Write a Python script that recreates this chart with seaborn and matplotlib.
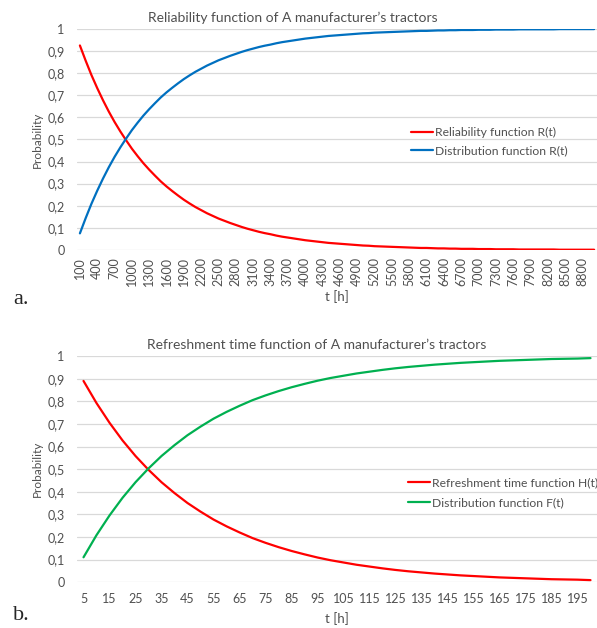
import numpy as np
import pandas as pd
import matplotlib
matplotlib.use('Agg')
import matplotlib.pyplot as plt
import seaborn as sns

sns.set_style('white')
plt.rcParams['font.family'] = ['Lato', 'DejaVu Sans']

# --- data ---
t_rel = np.arange(100, 9100, 100)  # operating time [h], categories
rel_R = [0.925, 0.856, 0.791, 0.732, 0.677, 0.626, 0.579, 0.536, 0.496, 0.458,
         0.424, 0.392, 0.363, 0.336, 0.310, 0.287, 0.266, 0.246, 0.227, 0.210,
         0.194, 0.180, 0.166, 0.154, 0.142, 0.132, 0.122, 0.113, 0.104, 0.096,
         0.089, 0.082, 0.076, 0.071, 0.065, 0.060, 0.056, 0.052, 0.048, 0.044,
         0.041, 0.038, 0.035, 0.032, 0.030, 0.028, 0.026, 0.024, 0.022, 0.020,
         0.019, 0.017, 0.016, 0.015, 0.014, 0.013, 0.012, 0.011, 0.010, 0.009,
         0.009, 0.008, 0.007, 0.007, 0.006, 0.006, 0.005, 0.005, 0.005, 0.004,
         0.004, 0.004, 0.003, 0.003, 0.003, 0.003, 0.002, 0.002, 0.002, 0.002,
         0.002, 0.002, 0.002, 0.001, 0.001, 0.001, 0.001, 0.001, 0.001, 0.001]
rel_F = [0.075, 0.144, 0.209, 0.268, 0.323, 0.374, 0.421, 0.464, 0.504, 0.542,
         0.576, 0.608, 0.637, 0.664, 0.690, 0.713, 0.734, 0.754, 0.773, 0.790,
         0.806, 0.820, 0.834, 0.846, 0.858, 0.868, 0.878, 0.887, 0.896, 0.904,
         0.911, 0.918, 0.924, 0.929, 0.935, 0.940, 0.944, 0.948, 0.952, 0.956,
         0.959, 0.962, 0.965, 0.968, 0.970, 0.972, 0.974, 0.976, 0.978, 0.980,
         0.981, 0.983, 0.984, 0.985, 0.986, 0.987, 0.988, 0.989, 0.990, 0.991,
         0.991, 0.992, 0.993, 0.993, 0.994, 0.994, 0.995, 0.995, 0.995, 0.996,
         0.996, 0.996, 0.997, 0.997, 0.997, 0.997, 0.998, 0.998, 0.998, 0.998,
         0.998, 0.998, 0.998, 0.999, 0.999, 0.999, 0.999, 0.999, 0.999, 0.999]

t_ref = np.arange(5, 205, 5)  # refreshment time [h], categories
ref_H = [0.890, 0.792, 0.705, 0.627, 0.558, 0.497, 0.442, 0.394, 0.350, 0.312,
         0.277, 0.247, 0.220, 0.195, 0.174, 0.155, 0.138, 0.123, 0.109, 0.097,
         0.087, 0.077, 0.069, 0.061, 0.054, 0.048, 0.043, 0.038, 0.034, 0.030,
         0.027, 0.024, 0.021, 0.019, 0.017, 0.015, 0.013, 0.012, 0.011, 0.009]
ref_F = [0.110, 0.208, 0.295, 0.373, 0.442, 0.503, 0.558, 0.606, 0.650, 0.688,
         0.723, 0.753, 0.780, 0.805, 0.826, 0.845, 0.862, 0.877, 0.891, 0.903,
         0.913, 0.923, 0.931, 0.939, 0.946, 0.952, 0.957, 0.962, 0.966, 0.970,
         0.973, 0.976, 0.979, 0.981, 0.983, 0.985, 0.987, 0.988, 0.989, 0.991]

y_ticks = [0, 0.1, 0.2, 0.3, 0.4, 0.5, 0.6, 0.7, 0.8, 0.9, 1]
y_labels = ['0', '0,1', '0,2', '0,3', '0,4', '0,5', '0,6', '0,7', '0,8', '0,9', '1']

df_a = pd.DataFrame({
    't': np.concatenate([t_rel, t_rel]),
    'p': rel_R + rel_F,
    'series': ['Reliability function R(t)'] * len(t_rel)
              + ['Distribution function R(t)'] * len(t_rel)})
df_b = pd.DataFrame({
    't': np.concatenate([t_ref, t_ref]),
    'p': ref_H + ref_F,
    'series': ['Refreshment time function H(t)'] * len(t_ref)
              + ['Distribution function F(t)'] * len(t_ref)})

pal_a = {'Reliability function R(t)': '#FF0000', 'Distribution function R(t)': '#0070C0'}
pal_b = {'Refreshment time function H(t)': '#FF0000', 'Distribution function F(t)': '#00B050'}

fig = plt.figure(figsize=(5.97, 6.28), dpi=100)
ax1 = fig.add_axes([0.129, 0.602, 0.871, 0.352])
ax2 = fig.add_axes([0.129, 0.073, 0.871, 0.360])

grid = '#D9D9D9'
txt = '#505050'

def style(ax, title, title_x):
    for s in ax.spines.values():
        s.set_visible(False)
    ax.set_ylim(0, 1)
    ax.set_yticks(y_ticks)
    ax.set_yticklabels(y_labels)
    ax.yaxis.grid(True, color=grid, lw=0.9)
    ax.xaxis.grid(False)
    ax.tick_params(length=0, labelsize=9, colors=txt)
    ax.tick_params(axis='y', pad=9)
    ax.set_ylabel('Probability', fontsize=8.5, color=txt, labelpad=3)
    ax.set_title(title, fontsize=10, color=txt, pad=5, x=title_x)
    ax.set_axisbelow(True)

# a. reliability
sns.lineplot(data=df_a, x='t', y='p', hue='series', palette=pal_a, lw=1.6, ax=ax1)
style(ax1, 'Reliability function of A manufacturer\u2019s tractors', 0.415)
ax1.set_xlim(50, 9050)
ax1.set_xticks(t_rel[::3])
ax1.set_xticklabels([str(v) for v in t_rel[::3]], rotation=90)
ax1.tick_params(axis='x', pad=5)
ax1.set_xlabel('t [h]', fontsize=9.5, color=txt, labelpad=3)
ax1.legend(loc='center left', bbox_to_anchor=(0.633, 0.49), frameon=False,
           fontsize=8.7, handlelength=1.8, handletextpad=0.2, labelspacing=0.6,
           labelcolor=txt, borderaxespad=0)

# b. refreshment
sns.lineplot(data=df_b, x='t', y='p', hue='series', palette=pal_b, lw=1.6, ax=ax2)
style(ax2, 'Refreshment time function of A manufacturer\u2019s tractors', 0.46)
ax2.set_xlim(2.5, 202.5)
ax2.set_xticks(t_ref[::2])
ax2.set_xticklabels([str(v) for v in t_ref[::2]])
ax2.tick_params(axis='x', pad=8)
ax2.set_xlabel('t [h]', fontsize=9.5, color=txt, labelpad=5)
ax2.legend(loc='center left', bbox_to_anchor=(0.627, 0.396), frameon=False,
           fontsize=8.7, handlelength=1.8, handletextpad=0.2, labelspacing=0.75,
           labelcolor=txt, borderaxespad=0)

fig.text(0.022, 1 - 299 / 628, 'a.', family='Liberation Serif', fontsize=16, va='center')
fig.text(0.022, 1 - 615 / 628, 'b.', family='Liberation Serif', fontsize=16, va='center')

fig.savefig('out.png', dpi=100)
